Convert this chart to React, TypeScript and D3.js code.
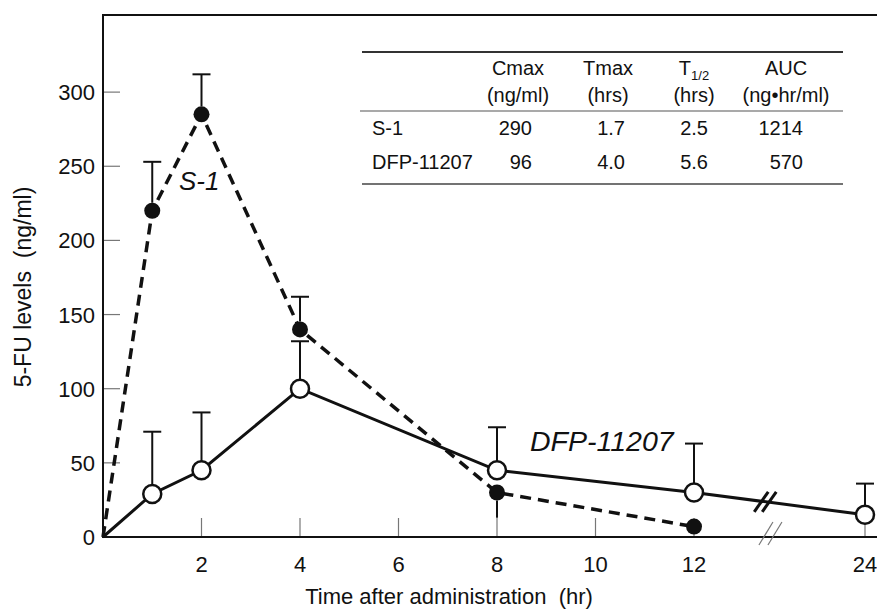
import React, { useEffect, useRef } from 'react'
import * as d3 from 'd3'

// time points (hr) and mean 5-FU levels (ng/ml)
const s1Times = [0, 1, 2, 4, 8, 12]
const s1Values = [0, 220, 285, 140, 30, 7]
const s1ErrEnd = [null, 253, 312, 162, 13, null]

const dfpTimes = [0, 1, 2, 4, 8, 12, 24]
const dfpValues = [0, 29, 45, 100, 45, 30, 15]
const dfpErrEnd = [null, 71, 84, 132, 74, 63, 36]

const xTicks = [2, 4, 6, 8, 10, 12, 24]
const yTicks = [0, 50, 100, 150, 200, 250, 300]

// pharmacokinetic table
const tableHeads = ['Cmax', 'Tmax', 'T', 'AUC']
const tableUnits = ['(ng/ml)', '(hrs)', '(hrs)', '(ng•hr/ml)']
const tableRows = ['S-1', 'DFP-11207']
const s1Stats = ['290', '1.7', '2.5', '1214']
const dfpStats = ['96', '4.0', '5.6', '570']

const FONT = '"Liberation Sans", Arial, sans-serif'

function App() {
  const ref = useRef<SVGSVGElement | null>(null)

  useEffect(() => {
    const svg = d3.select(ref.current)
    svg.selectAll('*').remove()

    const x = d3.scaleLinear().domain([0, 12, 24]).range([103, 694, 865])
    const y = d3.scaleLinear().domain([0, 352]).range([537, 15])

    const g = svg.append('g').attr('font-family', FONT).attr('fill', '#111')

    // frame: left axis, bottom axis, top line
    g.append('line').attr('x1', 103).attr('x2', 103).attr('y1', y(352)).attr('y2', y(0))
      .attr('stroke', '#111').attr('stroke-width', 2)
    g.append('line').attr('x1', 102).attr('x2', 877).attr('y1', y(0)).attr('y2', y(0))
      .attr('stroke', '#111').attr('stroke-width', 2)
    g.append('line').attr('x1', 102).attr('x2', 877).attr('y1', y(352)).attr('y2', y(352))
      .attr('stroke', '#111').attr('stroke-width', 2)

    // y ticks (inside)
    g.selectAll('line.ytick').data(yTicks.filter(d => d > 0)).enter().append('line')
      .attr('x1', 104).attr('x2', 120)
      .attr('y1', d => y(d)).attr('y2', d => y(d))
      .attr('stroke', '#777').attr('stroke-width', 1.2)
    g.selectAll('text.ylab').data(yTicks).enter().append('text')
      .attr('x', 95).attr('y', d => y(d) + 8)
      .attr('text-anchor', 'end').attr('font-size', 22)
      .text(d => d)

    // x ticks (inside)
    g.selectAll('line.xtick').data(xTicks).enter().append('line')
      .attr('x1', d => x(d)).attr('x2', d => x(d))
      .attr('y1', y(0) - 1).attr('y2', y(0) - 19)
      .attr('stroke', '#777').attr('stroke-width', 1.2)
    g.selectAll('text.xlab').data(xTicks).enter().append('text')
      .attr('x', d => x(d)).attr('y', 572)
      .attr('text-anchor', 'middle').attr('font-size', 22)
      .text(d => d)

    // axis break on x axis
    const xa = x(17.4)
    ;[-5, 4].forEach(o => {
      g.append('line')
        .attr('x1', xa + o - 7).attr('y1', y(0) + 8)
        .attr('x2', xa + o + 7).attr('y2', y(0) - 15)
        .attr('stroke', '#777').attr('stroke-width', 1.2)
    })

    // axis titles
    g.append('text').attr('x', 449).attr('y', 604)
      .attr('text-anchor', 'middle').attr('font-size', 22)
      .style('white-space', 'pre')
      .text('Time after administration  (hr)')
    g.append('text').attr('transform', 'translate(31,287) rotate(-90)')
      .attr('text-anchor', 'middle').attr('font-size', 23)
      .style('white-space', 'pre')
      .text('5-FU levels  (ng/ml)')

    // series lines
    const s1Line = d3.line<number>().x((d, i) => x(s1Times[i])).y(d => y(d))
    const dfpLine = d3.line<number>().x((d, i) => x(dfpTimes[i])).y(d => y(d))

    g.append('path').attr('d', dfpLine(dfpValues))
      .attr('fill', 'none').attr('stroke', '#111').attr('stroke-width', 3)
    g.append('path').attr('d', s1Line(s1Values))
      .attr('fill', 'none').attr('stroke', '#111').attr('stroke-width', 3.5)
      .attr('stroke-dasharray', '11,7')

    // break marks on the DFP line
    const xb = x(17)
    const lb = y(30 + (15 - 30) * (17 - 12) / 12)
    ;[-4, 4].forEach(o => {
      g.append('line')
        .attr('x1', xb + o - 7).attr('y1', lb + 10)
        .attr('x2', xb + o + 7).attr('y2', lb - 10)
        .attr('stroke', '#111').attr('stroke-width', 3)
    })

    // error bars
    const errBars = (times: number[], vals: number[], ends: (number | null)[], r: number) => {
      times.forEach((t, i) => {
        const e = ends[i]
        if (e == null) return
        const up = e > vals[i]
        g.append('line')
          .attr('x1', x(t)).attr('x2', x(t))
          .attr('y1', y(vals[i]) + (up ? -r : r)).attr('y2', y(e))
          .attr('stroke', '#111').attr('stroke-width', 2)
        if (up) {
          g.append('line')
            .attr('x1', x(t) - 9).attr('x2', x(t) + 9)
            .attr('y1', y(e)).attr('y2', y(e))
            .attr('stroke', '#111').attr('stroke-width', 2)
        }
      })
    }
    errBars(dfpTimes, dfpValues, dfpErrEnd, 9)
    errBars(s1Times, s1Values, s1ErrEnd, 8)

    // markers
    g.selectAll('circle.dfp').data(dfpValues.slice(1)).enter().append('circle')
      .attr('cx', (d, i) => x(dfpTimes[i + 1])).attr('cy', d => y(d)).attr('r', 9)
      .attr('fill', '#fff').attr('stroke', '#111').attr('stroke-width', 2.5)
    g.selectAll('circle.s1').data(s1Values.slice(1)).enter().append('circle')
      .attr('cx', (d, i) => x(s1Times[i + 1])).attr('cy', d => y(d)).attr('r', 8)
      .attr('fill', '#111')

    // series labels
    g.append('text').attr('x', 179).attr('y', 190)
      .attr('font-size', 26).attr('font-style', 'italic').text('S-1')
    g.append('text').attr('x', 530).attr('y', 451)
      .attr('font-size', 28.5).attr('font-style', 'italic').text('DFP-11207')

    // table
    const t = g.append('g').attr('font-size', 20)
    t.append('line').attr('x1', 362).attr('x2', 843).attr('y1', 52).attr('y2', 52)
      .attr('stroke', '#333').attr('stroke-width', 2)
    t.append('line').attr('x1', 360).attr('x2', 843).attr('y1', 111).attr('y2', 111)
      .attr('stroke', '#555').attr('stroke-width', 1.2)
    t.append('line').attr('x1', 362).attr('x2', 843).attr('y1', 184).attr('y2', 184)
      .attr('stroke', '#444').attr('stroke-width', 1.5)

    const headX = [518, 608, 694, 786]
    const valX = [532, 625, 708, 803]
    tableHeads.forEach((h, i) => {
      const txt = t.append('text').attr('x', headX[i]).attr('y', 75).attr('text-anchor', 'middle')
      txt.append('tspan').text(h)
      if (h === 'T') {
        txt.append('tspan').attr('font-size', 13).attr('dy', 5).text('1/2')
      }
      t.append('text').attr('x', headX[i]).attr('y', 102).attr('text-anchor', 'middle').text(tableUnits[i])
    })
    ;[s1Stats, dfpStats].forEach((row, r) => {
      const yy = r === 0 ? 135 : 169
      t.append('text').attr('x', 372).attr('y', yy).text(tableRows[r])
      row.forEach((v, i) => {
        t.append('text').attr('x', valX[i]).attr('y', yy).attr('text-anchor', 'end').text(v)
      })
    })
  }, [])

  return (
    <div style={{ position: 'absolute', left: 0, top: 0 }}>
      <svg ref={ref} width={877} height={611} style={{ display: 'block', background: '#fff' }} />
    </div>
  )
}

export default App
